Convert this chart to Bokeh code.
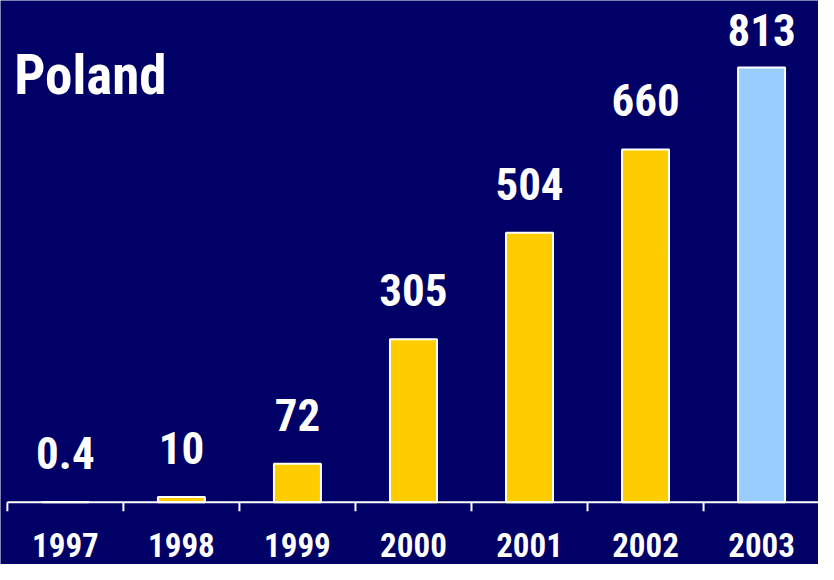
import math
from bokeh.plotting import figure
from bokeh.models import Range1d, Label, ColumnDataSource
from bokeh.core.properties import value
from bokeh.embed import file_html
from bokeh.resources import INLINE

years = ["1997", "1998", "1999", "2000", "2001", "2002", "2003"]
values = [0.4, 10, 72, 305, 504, 660, 813]
value_labels = ["0.4", "10", "72", "305", "504", "660", "813"]
bar_colors = ["#FFCC00", "#FFCC00", "#FFCC00", "#FFCC00", "#FFCC00", "#FFCC00", "#99CCFF"]
label_offsets = [-49, -49, -49, -49, -49, -49, -38]

BG = "#000066"
FONT = "'Roboto Condensed', Roboto"

centers = [i + 0.5 for i in range(len(years))]
bounds = [float(i) for i in range(len(years) + 1)]

p = figure(width=818, height=564, output_backend="svg", toolbar_location=None,
           x_axis_type=None, y_axis_type=None,
           x_range=Range1d(-0.0592, 6.9907), y_range=Range1d(-116.4, 938.5),
           min_border=0, min_border_left=0, min_border_right=0,
           min_border_top=0, min_border_bottom=0)
p.background_fill_color = BG
p.border_fill_color = BG
p.outline_line_color = None
p.grid.visible = False

src = ColumnDataSource(dict(x=centers, top=values, color=bar_colors,
                            lab=value_labels, off=label_offsets, year=years))

p.vbar(x="x", top="top", width=0.405, bottom=0, fill_color="color",
       line_color="white", line_width=2, source=src)

# axis line and ticks at category boundaries
p.segment(x0=[bounds[0]], y0=[0], x1=[bounds[-1]], y1=[0],
          line_color="white", line_width=2)
p.ray(x=bounds, y=[0] * len(bounds), length=9, length_units="screen",
      angle=-math.pi / 2, line_color="white", line_width=2)

# value labels
p.text(x="x", y="top", text="lab", y_offset="off", source=src,
       text_font=value(FONT), text_font_style="bold", text_font_size="45px",
       text_color="white", text_align="center", text_baseline="alphabetic")

# year labels
p.text(x="x", y=0, text="year", y_offset=43, source=src,
       text_font=value(FONT), text_font_style="bold", text_font_size="33px",
       text_color="white", text_align="center", text_baseline="alphabetic")

p.add_layout(Label(x=13.7, y=489.7, x_units="screen", y_units="screen", text="Poland",
                   text_font=FONT, text_font_style="bold", text_font_size="55px",
                   text_color="white", text_baseline="alphabetic"))

open("out.html", "w").write(file_html(p, INLINE))
